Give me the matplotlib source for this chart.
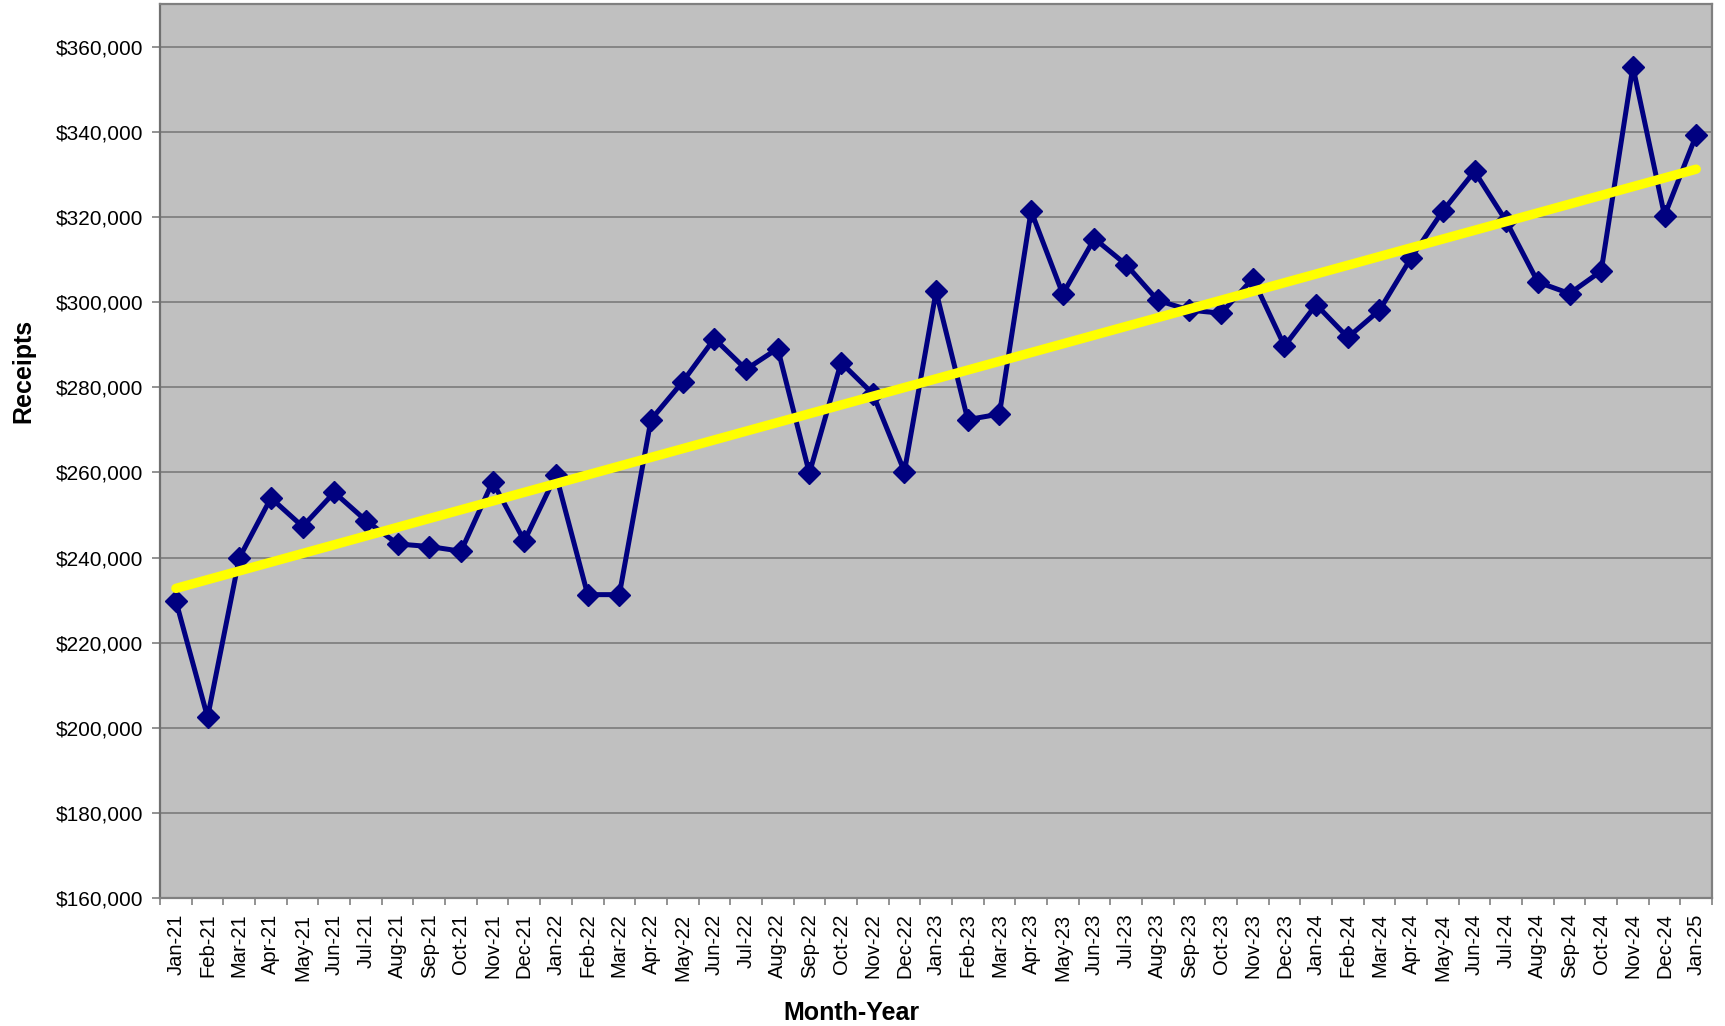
import numpy as np
import matplotlib
matplotlib.use("Agg")
import matplotlib.pyplot as plt
from matplotlib.ticker import FuncFormatter, FixedLocator

plt.rcParams['font.family'] = ['Liberation Sans', 'DejaVu Sans']

# Monthly receipts, Jan 2021 through Jan 2025
months = [
    "Jan-21", "Feb-21", "Mar-21", "Apr-21", "May-21", "Jun-21", "Jul-21", "Aug-21",
    "Sep-21", "Oct-21", "Nov-21", "Dec-21", "Jan-22", "Feb-22", "Mar-22", "Apr-22",
    "May-22", "Jun-22", "Jul-22", "Aug-22", "Sep-22", "Oct-22", "Nov-22", "Dec-22",
    "Jan-23", "Feb-23", "Mar-23", "Apr-23", "May-23", "Jun-23", "Jul-23", "Aug-23",
    "Sep-23", "Oct-23", "Nov-23", "Dec-23", "Jan-24", "Feb-24", "Mar-24", "Apr-24",
    "May-24", "Jun-24", "Jul-24", "Aug-24", "Sep-24", "Oct-24", "Nov-24", "Dec-24",
    "Jan-25",
]
receipts = [
    229800, 202500, 239900, 254000, 247300, 255300, 248700, 243200,
    242600, 241500, 257800, 243900, 259400, 231300, 231300, 272400,
    281300, 291400, 284200, 289100, 259800, 285800, 278500, 260200,
    302500, 272400, 273700, 321400, 301900, 314900, 308800, 300400,
    298100, 297400, 305500, 289700, 299400, 291700, 298100, 310400,
    321400, 330700, 319000, 304700, 302000, 307300, 355300, 320300,
    339200,
]
y_ticks = [160000, 180000, 200000, 220000, 240000, 260000, 280000,
           300000, 320000, 340000, 360000]

x = np.arange(len(months))
y = np.array(receipts, dtype=float)

# Linear trendline fitted to the monthly series
slope, intercept = np.polyfit(x, y, 1)
trend = slope * x + intercept

fig = plt.figure(figsize=(17.25, 10.26), dpi=100)
ax = fig.add_axes([0.0928, 0.1245, 0.8997, 0.8716])
ax.set_facecolor("#C0C0C0")

ax.plot(x, y, color="#000080", linewidth=3.6, marker="D", markersize=11.5,
        markeredgewidth=1.0, markeredgecolor="#000080", markerfacecolor="#000080",
        zorder=3)
ax.plot(x, trend, color="#FFFF00", linewidth=6.8, solid_capstyle="round", zorder=4)

ax.set_xlim(-0.5, len(months) - 0.5)
ax.set_ylim(160000, 370000)

# y axis
ax.yaxis.set_major_locator(FixedLocator(y_ticks))
ax.yaxis.set_major_formatter(FuncFormatter(lambda v, p: f"${v:,.0f}"))
ax.grid(axis="y", color="#808080", linewidth=1.3, zorder=1)
ax.set_axisbelow(True)
ax.tick_params(axis="y", which="major", length=6, width=1.2, color="#808080",
               labelsize=15, pad=6)

# x axis: labels centred on months, tick marks between months
ax.set_xticks(x)
ax.set_xticklabels(months, rotation=90, fontsize=14.5)
ax.set_xticks(np.arange(-0.5, len(months), 1.0), minor=True)
ax.tick_params(axis="x", which="major", length=0, pad=11)
ax.tick_params(axis="x", which="minor", length=5, width=1.2, color="#808080")

for side in ["left", "bottom", "top", "right"]:
    ax.spines[side].set_color("#808080")
    ax.spines[side].set_linewidth(1.6)
ax.spines["left"].set_color("#707070")

ax.set_ylabel("Receipts", fontsize=18, fontweight="bold", labelpad=15)
ax.set_xlabel("Month-Year", fontsize=18, fontweight="bold", labelpad=15)
ax.yaxis.label.set_y(0.59)
ax.xaxis.label.set_x(0.4455)

fig.savefig("out.png", dpi=100, facecolor="white")
